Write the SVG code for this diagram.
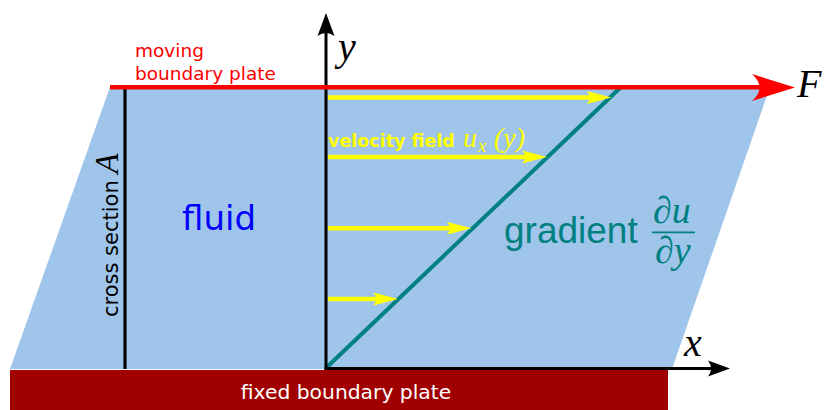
<svg xmlns="http://www.w3.org/2000/svg" width="826" height="410" viewBox="0 0 826 410">
<style>
.sans{font-family:"DejaVu Sans",sans-serif}
.math{font-family:"Liberation Serif","DejaVu Serif",serif;font-style:italic}
.yl{stroke:#ffff00;stroke-width:4.5;fill:none}
.ax{stroke:#000;stroke-width:3;fill:none}
</style>
<defs>
<path id="yhead" d="M0,0 L-25,-6.5 Q-18,0 -25,6.5 Z" fill="#ffff00"/>
</defs>
<g id="fluid-region">
<polygon points="110,87 770,87 672,369 10,369" fill="#9fc5eb"/>
<text class="sans" x="182" y="230" font-size="34" fill="#0000ff">fluid</text>
</g>
<g id="fixed-plate">
<rect x="10" y="370" width="658" height="40" fill="#a00000"/>
<text class="sans" x="346" y="399" font-size="20.3" fill="#ffffff" text-anchor="middle">fixed boundary plate</text>
</g>
<g id="cross-section">
<line x1="125" y1="89" x2="125" y2="369" stroke="#000" stroke-width="3.2"/>
<text transform="translate(118,317) rotate(-90)" class="sans" font-size="21" fill="#000">cross section <tspan class="math" font-size="33">A</tspan></text>
</g>
<g id="gradient">
<line x1="326" y1="368" x2="621" y2="87" stroke="#008080" stroke-width="4"/>
<text x="504" y="243" font-family="Liberation Sans, Arial, sans-serif" font-size="37" fill="#008080">gradient</text>
<text class="math" x="653" y="223" font-size="38" fill="#008080">∂u</text>
<line x1="652" y1="232.3" x2="695" y2="232.3" stroke="#008080" stroke-width="1.8"/>
<text class="math" x="655" y="263" font-size="38" fill="#008080">∂y</text>
</g>
<g id="connectors">
<line class="yl" x1="328" y1="97.5" x2="595" y2="97.5"/>
<use href="#yhead" x="611.5" y="97.5"/>
<line class="yl" x1="328" y1="157" x2="531" y2="157"/>
<use href="#yhead" x="547" y="157"/>
<line class="yl" x1="328" y1="228.3" x2="455" y2="228.3"/>
<use href="#yhead" x="471.5" y="228.3"/>
<line class="yl" x1="328" y1="299" x2="382" y2="299"/>
<use href="#yhead" x="398" y="299"/>
<line class="ax" x1="326" y1="370" x2="326" y2="30"/>
<path d="M326,13 L317.5,36 Q326,30 334.5,36 Z" fill="#000"/>
<line class="ax" x1="324.5" y1="368.5" x2="714" y2="368.5"/>
<path d="M730,368.5 L708,360.5 Q714,368.5 708,376.5 Z" fill="#000"/>
<line x1="110" y1="87.3" x2="768" y2="87.3" stroke="#ff0000" stroke-width="4.5"/>
<path d="M795,87.5 L752,74 Q767,87.5 752,101 Z" fill="#ff0000"/>
</g>
<g id="labels">
<text class="sans" x="135" y="57" font-size="18.5" fill="#ff0000">moving</text>
<text class="sans" x="135" y="80" font-size="18.5" fill="#ff0000">boundary plate</text>
<text class="math" x="797" y="97" font-size="40" fill="#000">F</text>
<text class="math" x="338" y="60" font-size="40" fill="#000">y</text>
<text class="math" x="684" y="356" font-size="40" fill="#000">x</text>
<text class="sans" x="328" y="147" font-size="17.5" font-weight="bold" fill="#ffff00">velocity field</text>
<text class="math" x="463" y="147" font-size="28" fill="#ffff00">u</text>
<text class="math" x="478" y="152" font-size="19" fill="#ffff00">x</text>
<text class="math" x="494" y="147" font-size="28" fill="#ffff00">(y)</text>
</g>
</svg>
